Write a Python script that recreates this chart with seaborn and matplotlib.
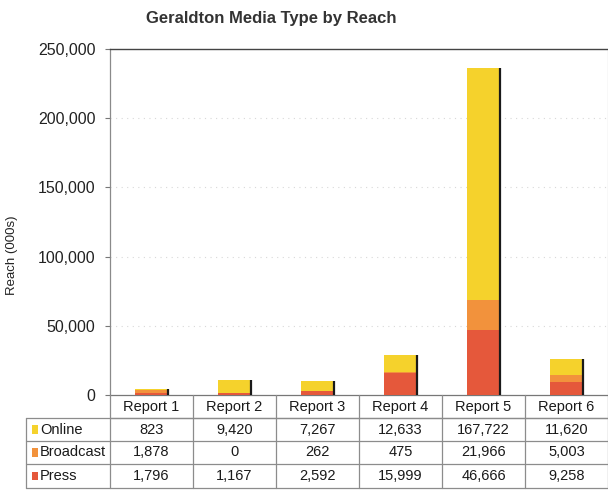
import numpy as np
import pandas as pd
import matplotlib
matplotlib.use("Agg")
import matplotlib.pyplot as plt
import seaborn as sns
from matplotlib.transforms import blended_transform_factory
from matplotlib.lines import Line2D
from matplotlib.patches import Rectangle

# --- data -------------------------------------------------------------
reports = ["Report 1", "Report 2", "Report 3", "Report 4", "Report 5", "Report 6"]
series_names = ["Online", "Broadcast", "Press"]
online = [823, 9420, 7267, 12633, 167722, 11620]
broadcast = [1878, 0, 262, 475, 21966, 5003]
press = [1796, 1167, 2592, 15999, 46666, 9258]
y_ticks = [0, 50000, 100000, 150000, 200000, 250000]

colors = {"Online": "#F5D22C", "Broadcast": "#F2923C", "Press": "#E5583B"}

sns.set_theme(style="white")
plt.rcParams["font.family"] = ["Liberation Sans", "DejaVu Sans"]

df = pd.DataFrame({"report": reports, "Online": online,
                   "Broadcast": broadcast, "Press": press})
df["press_top"] = df["Press"]
df["broadcast_top"] = df["Press"] + df["Broadcast"]
df["online_top"] = df["broadcast_top"] + df["Online"]

fig = plt.figure(figsize=(6.08, 4.91), dpi=100)
ax = fig.add_axes([110 / 608, 96 / 491, 498 / 608, 346 / 491])

# stacked bars: draw cumulative totals back to front
for col, name in [("online_top", "Online"), ("broadcast_top", "Broadcast"),
                  ("press_top", "Press")]:
    sns.barplot(data=df, x="report", y=col, color=colors[name], width=0.4,
                saturation=1, ax=ax, zorder=3, linewidth=0, errorbar=None)

# dark right-hand edge on each stack
n = len(reports)
for p in ax.patches[:n]:
    xr = p.get_x() + p.get_width()
    ax.plot([xr, xr], [0, p.get_height()], color="#1a1a1a", lw=1.6,
            zorder=4, solid_capstyle="butt")

ax.set_xlim(-0.5, n - 0.5)
ax.set_ylim(0, 250000)
ax.set_yticks(y_ticks)
ax.set_yticklabels([f"{v:,}" for v in y_ticks], fontsize=11.5, color="#222222")
ax.set_xticks([])
ax.set_xlabel("")
ax.set_ylabel("")
ax.tick_params(axis="y", length=3.5, width=0.8, color="#777777", pad=7, left=True)
for v in y_ticks[1:-1]:
    ax.axhline(v, color="#d8d8d8", lw=0.8, ls=(0, (1, 4)), zorder=1)
for side in ["top", "left", "right", "bottom"]:
    ax.spines[side].set_visible(True)
ax.spines["top"].set_color("#444444")
ax.spines["top"].set_linewidth(1.0)
ax.spines["left"].set_color("#8a8a8a")
ax.spines["left"].set_linewidth(0.9)
ax.spines["left"].set_linestyle((0, (3, 1)))
ax.spines["right"].set_color("#888888")
ax.spines["right"].set_linewidth(0.8)
ax.spines["bottom"].set_color("#777777")
ax.spines["bottom"].set_linewidth(0.9)

fig.text(271 / 608, 1 - 18 / 491, "Geraldton Media Type by Reach",
         ha="center", va="center", fontsize=12, fontweight="bold", color="#333333")
fig.text(12 / 608, 1 - 255 / 491, "Reach (000s)", rotation=90,
         ha="center", va="center", fontsize=9.5, color="#222222")

# --- data table beneath the axis -------------------------------------
tr = blended_transform_factory(ax.transData, ax.transAxes)
tra = ax.transAxes
row_px = [395, 418, 441, 464, 488]
row_y = [(395 - y) / 346 for y in row_px]
left_x = (26 - 110) / 498
line_kw = dict(color="#8c8c8c", lw=0.9, clip_on=False, zorder=5)
cell_fs = 10.5

# horizontal lines
ax.add_line(Line2D([-0.5, n - 0.5], [row_y[1]] * 2, transform=tr, **line_kw))
ax.add_line(Line2D([left_x, 1.0], [row_y[1]] * 2, transform=tra, **line_kw))
for y in row_y[2:]:
    ax.add_line(Line2D([left_x, 1.0], [y, y], transform=tra, **line_kw))
# vertical lines
ax.add_line(Line2D([left_x, left_x], [row_y[1], row_y[-1]], transform=tra, **line_kw))
for i in range(n + 1):
    xb = i - 0.5
    ax.add_line(Line2D([xb, xb], [row_y[0], row_y[-1]], transform=tr, **line_kw))

# header
hdr_y = (row_y[0] + row_y[1]) / 2
for i, r in enumerate(reports):
    ax.text(i, hdr_y, r, transform=tr, ha="center", va="center",
            fontsize=cell_fs, color="#1a1a1a", clip_on=False)

# rows
for k, (name, vals) in enumerate(zip(series_names, [online, broadcast, press])):
    yc = (row_y[k + 1] + row_y[k + 2]) / 2
    # small legend swatch
    sw_x = (32 - 110) / 498
    ax.add_patch(Rectangle((sw_x, yc - 0.012), 6 / 498, 0.024, transform=tra,
                           facecolor=colors[name], edgecolor="none",
                           clip_on=False, zorder=6))
    ax.text((40 - 110) / 498, yc, name, transform=tra, ha="left", va="center",
            fontsize=cell_fs, color="#1a1a1a", clip_on=False)
    for i, v in enumerate(vals):
        ax.text(i, yc, f"{v:,}", transform=tr, ha="center", va="center",
                fontsize=cell_fs, color="#1a1a1a", clip_on=False)

fig.savefig("out.png", dpi=100)
